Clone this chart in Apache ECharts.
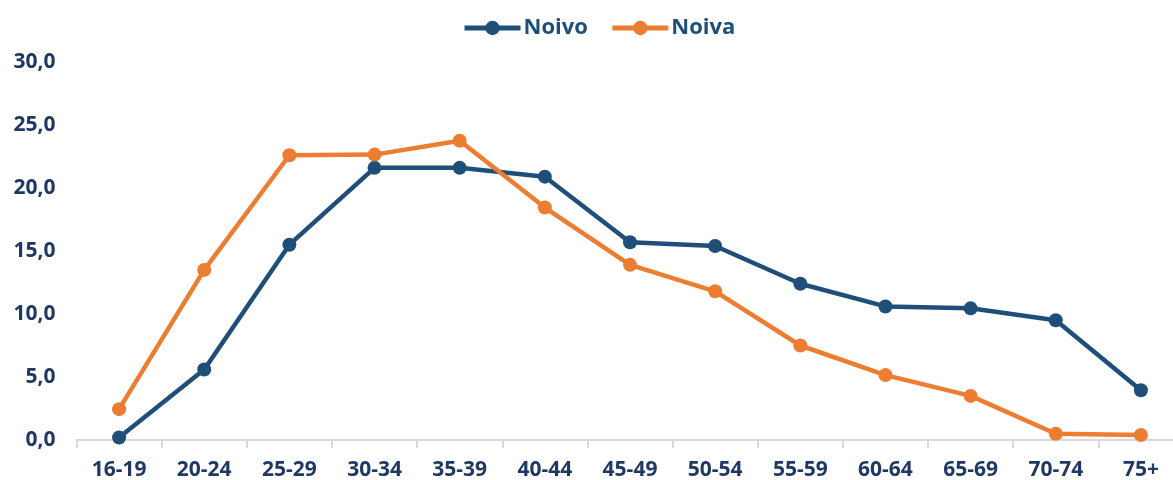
<!DOCTYPE html>
<html>
<head>
<meta charset="utf-8">
<script src="https://cdn.jsdelivr.net/npm/echarts@6/dist/echarts.min.js"></script>
<style>
  html, body { margin: 0; padding: 0; background: #fff; }
  #chart { width: 1173px; height: 480px; }
</style>
</head>
<body>
<div id="chart"></div>
<script>
// Age groups on the x axis
const categories = ['16-19', '20-24', '25-29', '30-34', '35-39', '40-44', '45-49',
  '50-54', '55-59', '60-64', '65-69', '70-74', '75+'];
// Percentages per age group
const noivo = [0.2, 5.6, 15.5, 21.6, 21.6, 20.9, 15.7, 15.4, 12.4, 10.6, 10.45, 9.5, 3.95];
const noiva = [2.45, 13.5, 22.6, 22.65, 23.75, 18.45, 13.9, 11.8, 7.5, 5.15, 3.5, 0.5, 0.4];
const seriesNames = ['Noivo', 'Noiva'];
const colors = ['#1F4E79', '#ED7D31'];

const fontFamily = '"Open Sans", sans-serif';
const labelColor = '#203864';

const chart = echarts.init(document.getElementById('chart'));
chart.setOption({
  animation: false,
  color: colors,
  legend: {
    top: 12,
    left: 457,
    itemWidth: 56,
    itemHeight: 18,
    itemGap: 22,
    lineStyle: { width: 5 },
    textStyle: { fontFamily, fontWeight: 'bold', fontSize: 22, color: '#1F4E79', padding: [0, 0, 0, -2] },
    data: seriesNames
  },
  grid: { left: 76.5, top: 62, right: -10.5, bottom: 40, containLabel: false, outerBoundsMode: 'none' },
  xAxis: {
    type: 'category',
    data: categories,
    boundaryGap: true,
    axisLine: { lineStyle: { color: '#D9D9D9', width: 2 } },
    axisTick: { show: true, length: 8, lineStyle: { color: '#D9D9D9', width: 2 } },
    axisLabel: { fontFamily, fontWeight: 'bold', fontSize: 21, color: labelColor, margin: 20 }
  },
  yAxis: {
    type: 'value',
    min: 0,
    max: 30,
    interval: 5,
    axisLine: { show: false },
    axisTick: { show: false },
    splitLine: { show: false },
    axisLabel: {
      fontFamily, fontWeight: 'bold', fontSize: 21, color: labelColor, margin: 21,
      formatter: v => v.toFixed(1).replace('.', ',')
    }
  },
  series: [
    {
      name: seriesNames[0], type: 'line', data: noivo,
      symbol: 'circle', symbolSize: 14,
      lineStyle: { width: 4.5, color: colors[0] },
      itemStyle: { color: colors[0] }
    },
    {
      name: seriesNames[1], type: 'line', data: noiva,
      symbol: 'circle', symbolSize: 14,
      lineStyle: { width: 4.5, color: colors[1] },
      itemStyle: { color: colors[1] }
    }
  ]
});
</script>
</body>
</html>
